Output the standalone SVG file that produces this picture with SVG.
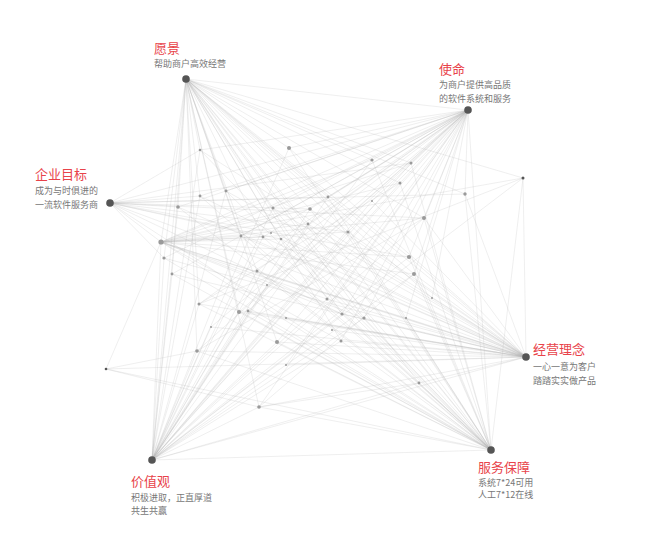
<svg xmlns="http://www.w3.org/2000/svg" width="658" height="551" viewBox="0 0 658 551">
<style>
text{font-family:"Noto Sans CJK SC","Liberation Sans",sans-serif}
.t{font-size:13px;fill:#e8434a}
.s{font-size:9px;fill:#777}
#links line{stroke:#b0b0b0;stroke-opacity:.35;stroke-width:.6}
.m{fill:#555}
.d{fill:#9a9a9a}
</style>
<rect width="658" height="551" fill="#fff"/>
<g id="links">
<line x1="186" y1="79" x2="468" y2="110"/><line x1="186" y1="79" x2="526" y2="357"/><line x1="186" y1="79" x2="491" y2="450"/><line x1="186" y1="79" x2="152" y2="460"/><line x1="186" y1="79" x2="200" y2="150"/><line x1="186" y1="79" x2="289" y2="148"/><line x1="186" y1="79" x2="226" y2="191"/><line x1="186" y1="79" x2="200" y2="196"/><line x1="186" y1="79" x2="178" y2="207"/><line x1="186" y1="79" x2="273" y2="208"/><line x1="186" y1="79" x2="328" y2="197"/><line x1="186" y1="79" x2="310" y2="209"/><line x1="186" y1="79" x2="308" y2="224"/><line x1="186" y1="79" x2="348" y2="232"/><line x1="186" y1="79" x2="161" y2="242"/><line x1="186" y1="79" x2="164" y2="258"/><line x1="186" y1="79" x2="241" y2="236"/><line x1="186" y1="79" x2="263" y2="237"/><line x1="186" y1="79" x2="281" y2="239"/><line x1="186" y1="79" x2="257" y2="271"/><line x1="186" y1="79" x2="172" y2="274"/><line x1="186" y1="79" x2="372" y2="160"/><line x1="186" y1="79" x2="411" y2="163"/><line x1="186" y1="79" x2="400" y2="183"/><line x1="186" y1="79" x2="523" y2="178"/><line x1="186" y1="79" x2="465" y2="194"/><line x1="186" y1="79" x2="424" y2="218"/><line x1="186" y1="79" x2="409" y2="257"/><line x1="186" y1="79" x2="414" y2="274"/><line x1="186" y1="79" x2="199" y2="304"/><line x1="186" y1="79" x2="239" y2="312"/><line x1="186" y1="79" x2="327" y2="299"/><line x1="186" y1="79" x2="342" y2="314"/><line x1="186" y1="79" x2="341" y2="341"/><line x1="186" y1="79" x2="277" y2="342"/><line x1="186" y1="79" x2="197" y2="351"/><line x1="186" y1="79" x2="259" y2="407"/><line x1="186" y1="79" x2="432" y2="298"/><line x1="186" y1="79" x2="364" y2="318"/><line x1="186" y1="79" x2="419" y2="383"/>
<line x1="468" y1="110" x2="110" y2="203"/><line x1="468" y1="110" x2="152" y2="460"/><line x1="468" y1="110" x2="491" y2="450"/><line x1="468" y1="110" x2="200" y2="150"/><line x1="468" y1="110" x2="289" y2="148"/><line x1="468" y1="110" x2="226" y2="191"/><line x1="468" y1="110" x2="200" y2="196"/><line x1="468" y1="110" x2="178" y2="207"/><line x1="468" y1="110" x2="273" y2="208"/><line x1="468" y1="110" x2="328" y2="197"/><line x1="468" y1="110" x2="310" y2="209"/><line x1="468" y1="110" x2="308" y2="224"/><line x1="468" y1="110" x2="348" y2="232"/><line x1="468" y1="110" x2="161" y2="242"/><line x1="468" y1="110" x2="164" y2="258"/><line x1="468" y1="110" x2="241" y2="236"/><line x1="468" y1="110" x2="263" y2="237"/><line x1="468" y1="110" x2="281" y2="239"/><line x1="468" y1="110" x2="257" y2="271"/><line x1="468" y1="110" x2="172" y2="274"/><line x1="468" y1="110" x2="372" y2="160"/><line x1="468" y1="110" x2="411" y2="163"/><line x1="468" y1="110" x2="400" y2="183"/><line x1="468" y1="110" x2="372" y2="201"/><line x1="468" y1="110" x2="424" y2="218"/><line x1="468" y1="110" x2="409" y2="257"/><line x1="468" y1="110" x2="414" y2="274"/><line x1="468" y1="110" x2="199" y2="304"/><line x1="468" y1="110" x2="239" y2="312"/><line x1="468" y1="110" x2="248" y2="311"/><line x1="468" y1="110" x2="327" y2="299"/><line x1="468" y1="110" x2="342" y2="314"/><line x1="468" y1="110" x2="341" y2="341"/><line x1="468" y1="110" x2="211" y2="327"/><line x1="468" y1="110" x2="277" y2="342"/><line x1="468" y1="110" x2="197" y2="351"/><line x1="468" y1="110" x2="286" y2="365"/><line x1="468" y1="110" x2="259" y2="407"/><line x1="468" y1="110" x2="364" y2="318"/><line x1="468" y1="110" x2="406" y2="318"/><line x1="468" y1="110" x2="432" y2="298"/><line x1="468" y1="110" x2="465" y2="194"/>
<line x1="110" y1="203" x2="200" y2="196"/><line x1="110" y1="203" x2="178" y2="207"/><line x1="110" y1="203" x2="161" y2="242"/><line x1="110" y1="203" x2="164" y2="258"/><line x1="110" y1="203" x2="310" y2="209"/><line x1="110" y1="203" x2="328" y2="197"/><line x1="110" y1="203" x2="348" y2="232"/><line x1="110" y1="203" x2="424" y2="218"/><line x1="110" y1="203" x2="409" y2="257"/><line x1="110" y1="203" x2="411" y2="163"/><line x1="110" y1="203" x2="281" y2="239"/><line x1="110" y1="203" x2="263" y2="237"/><line x1="110" y1="203" x2="342" y2="314"/><line x1="110" y1="203" x2="526" y2="357"/><line x1="110" y1="203" x2="465" y2="194"/><line x1="110" y1="203" x2="200" y2="150"/>
<line x1="526" y1="357" x2="200" y2="150"/><line x1="526" y1="357" x2="289" y2="148"/><line x1="526" y1="357" x2="226" y2="191"/><line x1="526" y1="357" x2="200" y2="196"/><line x1="526" y1="357" x2="178" y2="207"/><line x1="526" y1="357" x2="273" y2="208"/><line x1="526" y1="357" x2="310" y2="209"/><line x1="526" y1="357" x2="308" y2="224"/><line x1="526" y1="357" x2="348" y2="232"/><line x1="526" y1="357" x2="161" y2="242"/><line x1="526" y1="357" x2="164" y2="258"/><line x1="526" y1="357" x2="241" y2="236"/><line x1="526" y1="357" x2="263" y2="237"/><line x1="526" y1="357" x2="281" y2="239"/><line x1="526" y1="357" x2="257" y2="271"/><line x1="526" y1="357" x2="172" y2="274"/><line x1="526" y1="357" x2="372" y2="201"/><line x1="526" y1="357" x2="424" y2="218"/><line x1="526" y1="357" x2="409" y2="257"/><line x1="526" y1="357" x2="414" y2="274"/><line x1="526" y1="357" x2="199" y2="304"/><line x1="526" y1="357" x2="239" y2="312"/><line x1="526" y1="357" x2="248" y2="311"/><line x1="526" y1="357" x2="286" y2="318"/><line x1="526" y1="357" x2="327" y2="299"/><line x1="526" y1="357" x2="342" y2="314"/><line x1="526" y1="357" x2="332" y2="330"/><line x1="526" y1="357" x2="341" y2="341"/><line x1="526" y1="357" x2="211" y2="327"/><line x1="526" y1="357" x2="277" y2="342"/><line x1="526" y1="357" x2="197" y2="351"/><line x1="526" y1="357" x2="106" y2="369"/><line x1="526" y1="357" x2="286" y2="365"/><line x1="526" y1="357" x2="259" y2="407"/><line x1="526" y1="357" x2="432" y2="298"/><line x1="526" y1="357" x2="364" y2="318"/><line x1="526" y1="357" x2="406" y2="318"/><line x1="526" y1="357" x2="419" y2="383"/><line x1="526" y1="357" x2="523" y2="178"/><line x1="526" y1="357" x2="465" y2="194"/><line x1="526" y1="357" x2="152" y2="460"/>
<line x1="152" y1="460" x2="200" y2="150"/><line x1="152" y1="460" x2="289" y2="148"/><line x1="152" y1="460" x2="226" y2="191"/><line x1="152" y1="460" x2="200" y2="196"/><line x1="152" y1="460" x2="178" y2="207"/><line x1="152" y1="460" x2="273" y2="208"/><line x1="152" y1="460" x2="328" y2="197"/><line x1="152" y1="460" x2="310" y2="209"/><line x1="152" y1="460" x2="308" y2="224"/><line x1="152" y1="460" x2="348" y2="232"/><line x1="152" y1="460" x2="161" y2="242"/><line x1="152" y1="460" x2="164" y2="258"/><line x1="152" y1="460" x2="241" y2="236"/><line x1="152" y1="460" x2="263" y2="237"/><line x1="152" y1="460" x2="281" y2="239"/><line x1="152" y1="460" x2="257" y2="271"/><line x1="152" y1="460" x2="172" y2="274"/><line x1="152" y1="460" x2="372" y2="160"/><line x1="152" y1="460" x2="411" y2="163"/><line x1="152" y1="460" x2="400" y2="183"/><line x1="152" y1="460" x2="372" y2="201"/><line x1="152" y1="460" x2="424" y2="218"/><line x1="152" y1="460" x2="409" y2="257"/><line x1="152" y1="460" x2="414" y2="274"/><line x1="152" y1="460" x2="267" y2="285"/><line x1="152" y1="460" x2="199" y2="304"/><line x1="152" y1="460" x2="239" y2="312"/><line x1="152" y1="460" x2="248" y2="311"/><line x1="152" y1="460" x2="327" y2="299"/><line x1="152" y1="460" x2="342" y2="314"/><line x1="152" y1="460" x2="341" y2="341"/><line x1="152" y1="460" x2="211" y2="327"/><line x1="152" y1="460" x2="277" y2="342"/><line x1="152" y1="460" x2="197" y2="351"/><line x1="152" y1="460" x2="259" y2="407"/><line x1="152" y1="460" x2="364" y2="318"/><line x1="152" y1="460" x2="419" y2="383"/><line x1="152" y1="460" x2="491" y2="450"/><line x1="152" y1="460" x2="523" y2="178"/>
<line x1="491" y1="450" x2="200" y2="150"/><line x1="491" y1="450" x2="289" y2="148"/><line x1="491" y1="450" x2="226" y2="191"/><line x1="491" y1="450" x2="200" y2="196"/><line x1="491" y1="450" x2="178" y2="207"/><line x1="491" y1="450" x2="273" y2="208"/><line x1="491" y1="450" x2="328" y2="197"/><line x1="491" y1="450" x2="310" y2="209"/><line x1="491" y1="450" x2="308" y2="224"/><line x1="491" y1="450" x2="348" y2="232"/><line x1="491" y1="450" x2="161" y2="242"/><line x1="491" y1="450" x2="164" y2="258"/><line x1="491" y1="450" x2="241" y2="236"/><line x1="491" y1="450" x2="263" y2="237"/><line x1="491" y1="450" x2="281" y2="239"/><line x1="491" y1="450" x2="257" y2="271"/><line x1="491" y1="450" x2="172" y2="274"/><line x1="491" y1="450" x2="372" y2="160"/><line x1="491" y1="450" x2="411" y2="163"/><line x1="491" y1="450" x2="400" y2="183"/><line x1="491" y1="450" x2="523" y2="178"/><line x1="491" y1="450" x2="465" y2="194"/><line x1="491" y1="450" x2="424" y2="218"/><line x1="491" y1="450" x2="409" y2="257"/><line x1="491" y1="450" x2="414" y2="274"/><line x1="491" y1="450" x2="199" y2="304"/><line x1="491" y1="450" x2="239" y2="312"/><line x1="491" y1="450" x2="248" y2="311"/><line x1="491" y1="450" x2="327" y2="299"/><line x1="491" y1="450" x2="342" y2="314"/><line x1="491" y1="450" x2="341" y2="341"/><line x1="491" y1="450" x2="277" y2="342"/><line x1="491" y1="450" x2="197" y2="351"/><line x1="491" y1="450" x2="106" y2="369"/><line x1="491" y1="450" x2="259" y2="407"/><line x1="491" y1="450" x2="364" y2="318"/><line x1="491" y1="450" x2="406" y2="318"/><line x1="491" y1="450" x2="419" y2="383"/><line x1="491" y1="450" x2="110" y2="203"/>
<line x1="161" y1="242" x2="310" y2="209"/><line x1="161" y1="242" x2="308" y2="224"/><line x1="161" y1="242" x2="348" y2="232"/><line x1="161" y1="242" x2="241" y2="236"/><line x1="161" y1="242" x2="263" y2="237"/><line x1="161" y1="242" x2="281" y2="239"/><line x1="161" y1="242" x2="424" y2="218"/><line x1="161" y1="242" x2="409" y2="257"/><line x1="161" y1="242" x2="414" y2="274"/><line x1="161" y1="242" x2="411" y2="163"/><line x1="161" y1="242" x2="400" y2="183"/><line x1="161" y1="242" x2="342" y2="314"/><line x1="161" y1="242" x2="341" y2="341"/><line x1="161" y1="242" x2="364" y2="318"/><line x1="161" y1="242" x2="406" y2="318"/><line x1="161" y1="242" x2="327" y2="299"/><line x1="161" y1="242" x2="372" y2="160"/><line x1="161" y1="242" x2="106" y2="369"/><line x1="161" y1="242" x2="523" y2="178"/>
<line x1="106" y1="369" x2="197" y2="351"/><line x1="106" y1="369" x2="259" y2="407"/><line x1="259" y1="407" x2="419" y2="383"/><line x1="523" y1="178" x2="199" y2="304"/><line x1="199" y1="304" x2="400" y2="183"/><line x1="197" y1="351" x2="424" y2="218"/><line x1="259" y1="407" x2="414" y2="274"/>
</g>
<g id="dots">
<circle class="d" cx="200" cy="150" r="1.3"/><circle class="d" cx="289" cy="148" r="2"/><circle class="d" cx="226" cy="191" r="1.4"/><circle class="d" cx="200" cy="196" r="1.4"/><circle class="d" cx="178" cy="207" r="1.8"/><circle class="d" cx="273" cy="208" r="1.5"/><circle class="d" cx="328" cy="197" r="1.4"/><circle class="d" cx="310" cy="209" r="1.8"/><circle class="d" cx="308" cy="224" r="1.4"/><circle class="d" cx="348" cy="232" r="1.6"/><circle class="d" cx="161" cy="242" r="2.6"/><circle class="d" cx="164" cy="258" r="1.6"/><circle class="d" cx="241" cy="236" r="1.4"/><circle class="d" cx="263" cy="237" r="1.4"/><circle class="d" cx="271" cy="233" r="1"/><circle class="d" cx="281" cy="239" r="1.3"/><circle class="d" cx="257" cy="271" r="1.5"/><circle class="d" cx="172" cy="274" r="1.4"/><circle class="d" cx="372" cy="160" r="1.6"/><circle class="d" cx="411" cy="163" r="1.5"/><circle class="d" cx="400" cy="183" r="1.5"/><circle class="m" cx="523" cy="178" r="1.5"/><circle class="d" cx="465" cy="194" r="1.7"/><circle class="d" cx="372" cy="201" r="1"/><circle class="d" cx="424" cy="218" r="2"/><circle class="d" cx="409" cy="257" r="2.1"/><circle class="d" cx="414" cy="274" r="2"/><circle class="d" cx="267" cy="285" r="1"/><circle class="d" cx="199" cy="304" r="1.5"/><circle class="d" cx="239" cy="312" r="2"/><circle class="d" cx="248" cy="311" r="1.4"/><circle class="d" cx="286" cy="318" r="1.1"/><circle class="d" cx="327" cy="299" r="1.5"/><circle class="d" cx="342" cy="314" r="1.6"/><circle class="d" cx="332" cy="330" r="1"/><circle class="d" cx="341" cy="341" r="1.5"/><circle class="d" cx="211" cy="327" r="1"/><circle class="d" cx="277" cy="342" r="2"/><circle class="d" cx="197" cy="351" r="1.8"/><circle class="m" cx="106" cy="369" r="1.3"/><circle class="d" cx="286" cy="365" r="1"/><circle class="d" cx="259" cy="407" r="1.8"/><circle class="d" cx="432" cy="298" r="1"/><circle class="d" cx="364" cy="318" r="1.6"/><circle class="d" cx="406" cy="318" r="1.1"/><circle class="d" cx="419" cy="383" r="1.4"/>
</g>
<g id="n-vision"><circle class="m" cx="186" cy="79" r="3.8"/><text class="t" x="154" y="53">愿景</text><text class="s" x="154" y="67">帮助商户高效经营</text></g>
<g id="n-mission"><circle class="m" cx="468" cy="110" r="3.8"/><text class="t" x="439" y="74">使命</text><text class="s" x="439" y="88">为商户提供高品质</text><text class="s" x="439" y="102">的软件系统和服务</text></g>
<g id="n-goal"><circle class="m" cx="110" cy="203" r="3.8"/><text class="t" x="35" y="179">企业目标</text><text class="s" x="35" y="194">成为与时俱进的</text><text class="s" x="35" y="208">一流软件服务商</text></g>
<g id="n-philosophy"><circle class="m" cx="526" cy="357" r="3.8"/><text class="t" x="533" y="354">经营理念</text><text class="s" x="533" y="370">一心一意为客户</text><text class="s" x="533" y="384">踏踏实实做产品</text></g>
<g id="n-values"><circle class="m" cx="152" cy="460" r="3.8"/><text class="t" x="131" y="486">价值观</text><text class="s" x="131" y="501">积极进取，正直厚道</text><text class="s" x="131" y="514">共生共赢</text></g>
<g id="n-service"><circle class="m" cx="491" cy="450" r="3.8"/><text class="t" x="478" y="472">服务保障</text><text class="s" x="478" y="486">系统7*24可用</text><text class="s" x="478" y="498">人工7*12在线</text></g>
</svg>
